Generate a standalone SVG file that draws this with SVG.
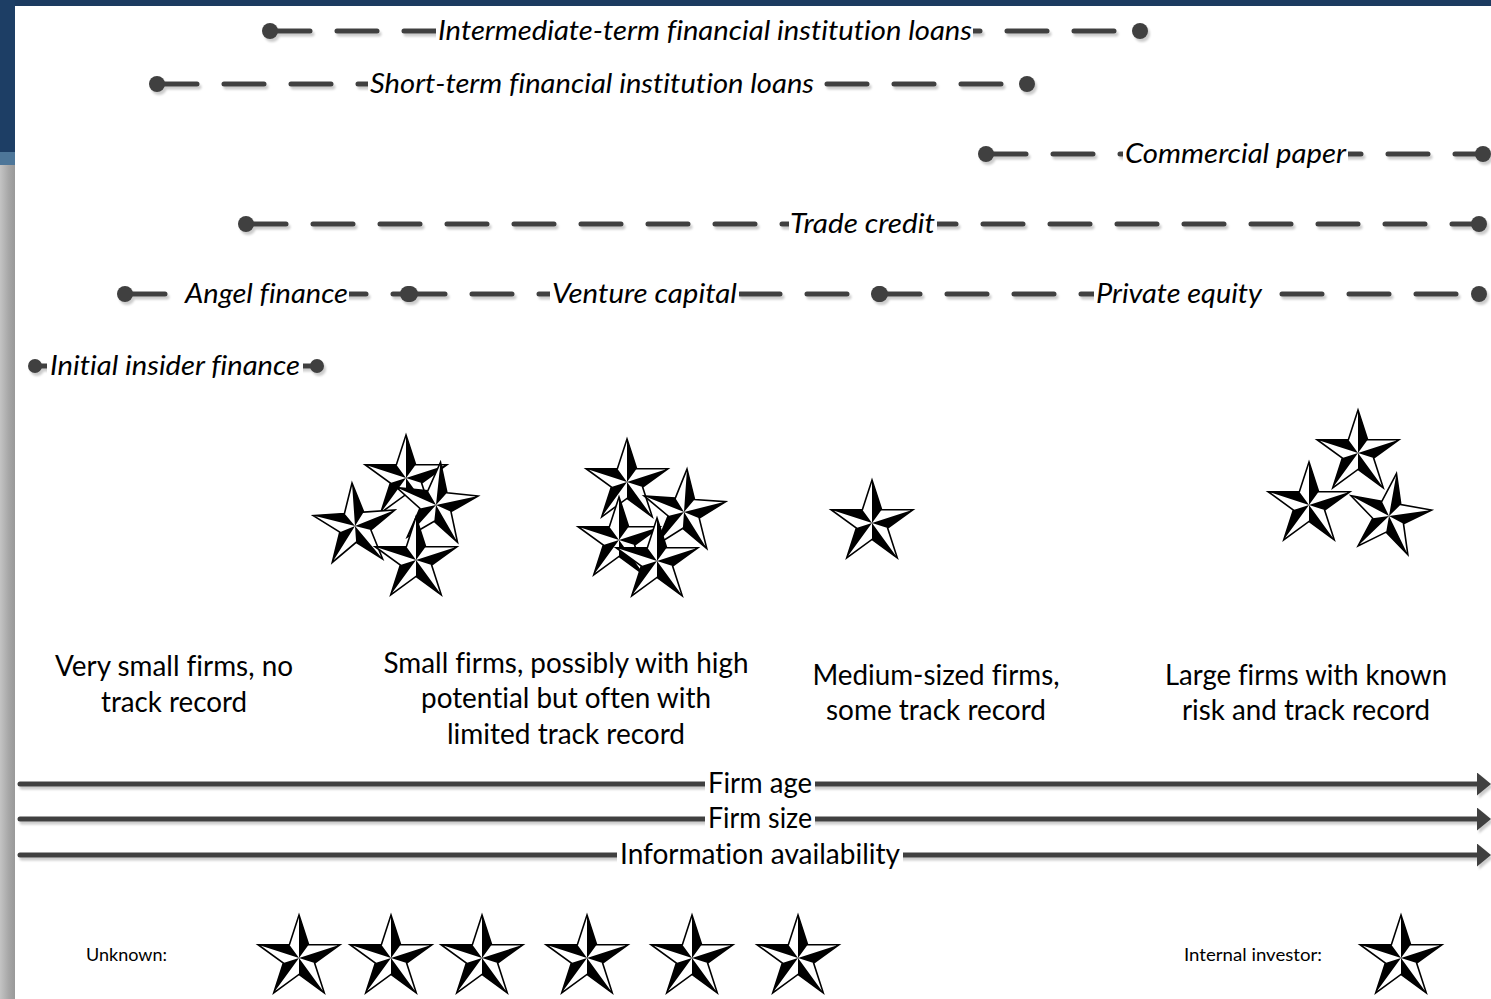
<svg xmlns="http://www.w3.org/2000/svg" xmlns:xlink="http://www.w3.org/1999/xlink" width="1491" height="999" viewBox="0 0 1491 999">
<style>
.dash{fill:none;stroke:#404040;stroke-width:5;stroke-linecap:round;stroke-dasharray:40 27}
.solid{fill:none;stroke:#404040;stroke-width:5;stroke-linecap:round}
.dot{fill:#404040}
.bg{fill:#fff}
text{font-variant-ligatures:none}
.lbl{font-family:Lato,"Open Sans",sans-serif;font-style:italic;font-size:27px;fill:#000}
.txt{font-family:Lato,"Open Sans",sans-serif;font-size:28px;fill:#000;text-anchor:middle}
.small{font-family:Lato,"Open Sans",sans-serif;font-size:18px;fill:#000}
</style>
<defs>
<filter id="sh" filterUnits="userSpaceOnUse" x="0" y="0" width="1491" height="999">
<feDropShadow dx="2" dy="3" stdDeviation="0.8" flood-color="#000" flood-opacity="0.2"/>
</filter>
<marker id="ah" markerUnits="userSpaceOnUse" markerWidth="14" markerHeight="23" refX="3" refY="11.5" orient="auto">
<path d="M0,0 L14,11.5 L0,23 Z" fill="#404040"/>
</marker>
<linearGradient id="gray" x1="0" y1="0" x2="1" y2="0">
<stop offset="0" stop-color="#c4c4c4"/><stop offset="0.6" stop-color="#a6a6a6"/><stop offset="1" stop-color="#999"/>
</linearGradient>
<g id="star">
<path d="M0,-43 L9.64,-13.27 L40.9,-13.29 L15.6,5.07 L25.27,34.79 L0,16.4 L-25.27,34.79 L-15.6,5.07 L-40.9,-13.29 L-9.64,-13.27 Z" fill="#fff" stroke="#000" stroke-width="1.6" stroke-linejoin="miter"/>
<path d="M0,0 L0,-43 L9.64,-13.27 Z M0,0 L40.9,-13.29 L15.6,5.07 Z M0,0 L25.27,34.79 L0,16.4 Z M0,0 L-25.27,34.79 L-15.6,5.07 Z M0,0 L-40.9,-13.29 L-9.64,-13.27 Z" fill="#000"/>
</g>
</defs>
<rect width="1491" height="999" fill="#fff"/>
<g id="frame">
<rect x="0" y="0" width="1491" height="6" fill="#1c3b60"/>
<rect x="0" y="0" width="15" height="152" fill="#1d3e65"/>
<rect x="0" y="152" width="15" height="13" fill="#4d7699"/>
<rect x="0" y="165" width="15" height="834" fill="url(#gray)"/>
</g>
<g id="connectors">
<g filter="url(#sh)">
<path class="dash" d="M270,31 H1140"/>
<circle class="dot" cx="270" cy="31" r="8"/><circle class="dot" cx="1140" cy="31" r="8"/>
<path class="dash" d="M157,84 H1027"/>
<circle class="dot" cx="157" cy="84" r="8"/><circle class="dot" cx="1027" cy="84" r="8"/>
<path class="dash" d="M986,154 H1483"/>
<circle class="dot" cx="986" cy="154" r="8"/><circle class="dot" cx="1483" cy="154" r="8"/>
<path class="dash" d="M246,224 H1479"/>
<circle class="dot" cx="246" cy="224" r="8"/><circle class="dot" cx="1479" cy="224" r="8"/>
<path class="dash" d="M125,294 H408"/>
<circle class="dot" cx="125" cy="294" r="8"/><circle class="dot" cx="408" cy="294" r="8"/>
<path class="dash" d="M405,294 H879"/>
<circle class="dot" cx="410" cy="294" r="8"/><circle class="dot" cx="879" cy="294" r="8"/>
<path class="dash" d="M880,294 H1479"/>
<circle class="dot" cx="880" cy="294" r="8"/><circle class="dot" cx="1479" cy="294" r="8"/>
<path class="solid" d="M35,366 H317"/>
<circle class="dot" cx="35" cy="366" r="7"/><circle class="dot" cx="317" cy="366" r="7"/>
<path class="solid" d="M20,784 H1480" marker-end="url(#ah)"/>
<path class="solid" d="M20,819 H1480" marker-end="url(#ah)"/>
<path class="solid" d="M20,855 H1480" marker-end="url(#ah)"/>
</g>
</g>
<g id="label-intermediate">
<rect class="bg" x="436" y="20" width="537" height="24"/>
<text class="lbl" x="438" y="40" textLength="534" lengthAdjust="spacingAndGlyphs">Intermediate-term financial institution loans</text>
</g>
<g id="label-short">
<rect class="bg" x="368" y="73" width="448" height="24"/>
<text class="lbl" x="370" y="93" textLength="444" lengthAdjust="spacingAndGlyphs">Short-term financial institution loans</text>
</g>
<g id="label-commercial">
<rect class="bg" x="1123" y="143" width="225" height="24"/>
<text class="lbl" x="1125" y="163" textLength="221" lengthAdjust="spacingAndGlyphs">Commercial paper</text>
</g>
<g id="label-trade">
<rect class="bg" x="789" y="213" width="148" height="24"/>
<text class="lbl" x="790" y="233" textLength="145" lengthAdjust="spacingAndGlyphs">Trade credit</text>
</g>
<g id="label-angel">
<rect class="bg" x="178" y="283" width="171" height="24"/>
<text class="lbl" x="185" y="303" textLength="163" lengthAdjust="spacingAndGlyphs">Angel finance</text>
</g>
<g id="label-venture">
<rect class="bg" x="550" y="283" width="189" height="24"/>
<text class="lbl" x="552" y="303" textLength="185" lengthAdjust="spacingAndGlyphs">Venture capital</text>
</g>
<g id="label-private">
<rect class="bg" x="1094" y="283" width="170" height="24"/>
<text class="lbl" x="1096" y="303" textLength="166" lengthAdjust="spacingAndGlyphs">Private equity</text>
</g>
<g id="label-insider">
<rect class="bg" x="47" y="355" width="256" height="24"/>
<text class="lbl" x="50" y="375" textLength="250" lengthAdjust="spacingAndGlyphs">Initial insider finance</text>
</g>
<g id="label-age">
<rect class="bg" x="705" y="772" width="110" height="24"/>
<text class="txt" x="760" y="793" textLength="104" lengthAdjust="spacingAndGlyphs">Firm age</text>
</g>
<g id="label-size">
<rect class="bg" x="705" y="807" width="110" height="24"/>
<text class="txt" x="760" y="828" textLength="104" lengthAdjust="spacingAndGlyphs">Firm size</text>
</g>
<g id="label-info">
<rect class="bg" x="617" y="843" width="286" height="24"/>
<text class="txt" x="760" y="864" textLength="280" lengthAdjust="spacingAndGlyphs">Information availability</text>
</g>
<g id="cluster-very-small">
<use xlink:href="#star" transform="translate(406,478)"/>
<use xlink:href="#star" transform="translate(436,505) rotate(6)"/>
<use xlink:href="#star" transform="translate(355,526) rotate(-4)"/>
<use xlink:href="#star" transform="translate(416,560)"/>
</g>
<g id="cluster-small">
<use xlink:href="#star" transform="translate(627,482)"/>
<use xlink:href="#star" transform="translate(684,512) rotate(4)"/>
<use xlink:href="#star" transform="translate(619,540)"/>
<use xlink:href="#star" transform="translate(657,561)"/>
</g>
<g id="cluster-medium">
<use xlink:href="#star" transform="translate(872,523)"/>
</g>
<g id="cluster-large">
<use xlink:href="#star" transform="translate(1358,453)"/>
<use xlink:href="#star" transform="translate(1309,505)"/>
<use xlink:href="#star" transform="translate(1389,516) rotate(10)"/>
</g>
<g id="desc-very-small">
<text class="txt" x="174" y="676" textLength="238" lengthAdjust="spacingAndGlyphs">Very small firms, no</text>
<text class="txt" x="174" y="712" textLength="146" lengthAdjust="spacingAndGlyphs">track record</text>
</g>
<g id="desc-small">
<text class="txt" x="566" y="673" textLength="365" lengthAdjust="spacingAndGlyphs">Small firms, possibly with high</text>
<text class="txt" x="566" y="708" textLength="290" lengthAdjust="spacingAndGlyphs">potential but often with</text>
<text class="txt" x="566" y="744" textLength="238" lengthAdjust="spacingAndGlyphs">limited track record</text>
</g>
<g id="desc-medium">
<text class="txt" x="936" y="685" textLength="247" lengthAdjust="spacingAndGlyphs">Medium-sized firms,</text>
<text class="txt" x="936" y="720" textLength="220" lengthAdjust="spacingAndGlyphs">some track record</text>
</g>
<g id="desc-large">
<text class="txt" x="1306" y="685" textLength="282" lengthAdjust="spacingAndGlyphs">Large firms with known</text>
<text class="txt" x="1306" y="720" textLength="248" lengthAdjust="spacingAndGlyphs">risk and track record</text>
</g>
<g id="legend-unknown">
<text class="small" x="86" y="961" textLength="81" lengthAdjust="spacingAndGlyphs">Unknown:</text>
<use xlink:href="#star" transform="translate(299,958)"/>
<use xlink:href="#star" transform="translate(391,958)"/>
<use xlink:href="#star" transform="translate(482,958)"/>
<use xlink:href="#star" transform="translate(587,958)"/>
<use xlink:href="#star" transform="translate(692,958)"/>
<use xlink:href="#star" transform="translate(798,958)"/>
</g>
<g id="legend-internal">
<text class="small" x="1184" y="961" textLength="138" lengthAdjust="spacingAndGlyphs">Internal investor:</text>
<use xlink:href="#star" transform="translate(1401,958)"/>
</g>
</svg>
